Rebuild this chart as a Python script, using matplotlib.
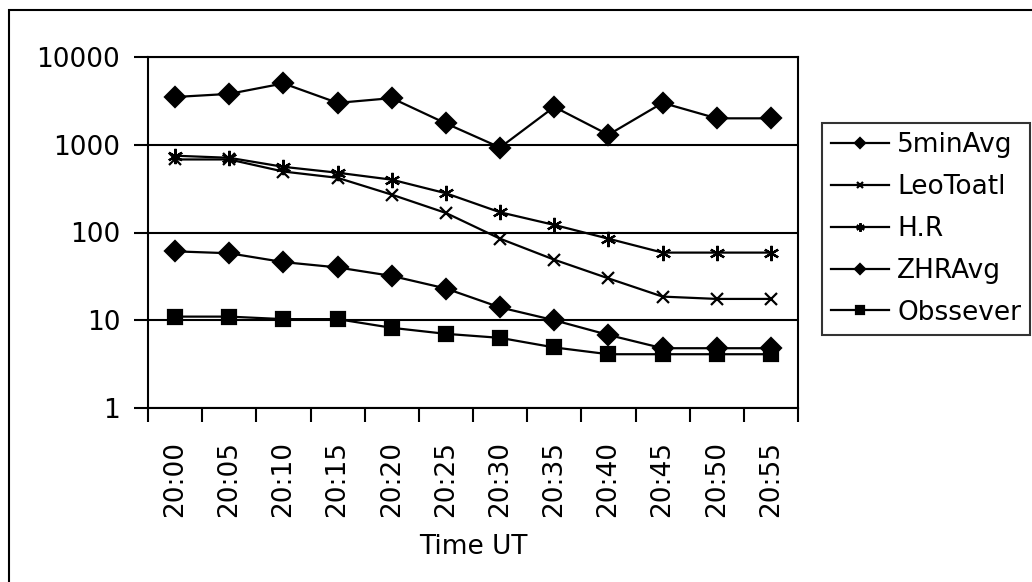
import numpy as np
import matplotlib
matplotlib.use('Agg')
import matplotlib.pyplot as plt
from matplotlib.patches import Rectangle
from matplotlib.ticker import FixedLocator, NullLocator, FuncFormatter

# datos
horas = ['20:00', '20:05', '20:10', '20:15', '20:20', '20:25',
         '20:30', '20:35', '20:40', '20:45', '20:50', '20:55']
media5min = [3500, 3800, 5000, 3000, 3400, 1750, 930, 2700, 1300, 3000, 2000, 2000]
leo_total = [680, 680, 495, 420, 270, 167, 85, 49, 30, 18.6, 17.5, 17.5]
hr = [750, 710, 560, 480, 400, 280, 170, 122, 85, 59, 59, 59]
zhr_media = [61, 58, 46, 40, 32, 23, 14, 10, 6.8, 4.8, 4.8, 4.8]
observador = [11, 11, 10.3, 10.3, 8.2, 7, 6.3, 4.9, 4.1, 4.1, 4.1, 4.1]

series = [
    ('5minAvg', media5min, 'D', 10),
    ('LeoToatl', leo_total, 'x', 9),
    ('H.R', hr, (6, 2, 0), 11),
    ('ZHRAvg', zhr_media, 'D', 10),
    ('Obssever', observador, 's', 10),
]

plt.rcParams['font.family'] = ['DejaVu Sans']
plt.rcParams['font.size'] = 19

fig = plt.figure(figsize=(10.32, 5.82), dpi=100)
fig.patches.append(Rectangle((9 / 1032, -0.1), 1.2, 1.1 - 10 / 582,
                             transform=fig.transFigure, fill=False,
                             edgecolor='black', linewidth=1.5))

ax = fig.add_axes([148 / 1032, 1 - 408 / 582, (798 - 148) / 1032, (408 - 57) / 582])
x = np.arange(len(horas))

lineas = []
for nombre, vals, marca, ms in series:
    l, = ax.plot(x, vals, color='black', linewidth=1.6, marker=marca,
                 markersize=ms, markeredgewidth=1.6, label=nombre)
    lineas.append(l)

ax.set_yscale('log')
ax.set_ylim(1, 10000)
ax.yaxis.set_major_locator(FixedLocator([1, 10, 100, 1000, 10000]))
ax.yaxis.set_minor_locator(NullLocator())
ax.yaxis.set_major_formatter(FuncFormatter(lambda v, p: '{:d}'.format(int(round(v)))))
ax.grid(axis='y', which='major', color='black', linewidth=1.5)

ax.set_xlim(-0.5, len(horas) - 0.5)
ax.set_xticks(x)
ax.set_xticklabels(horas, rotation=90)
ax.set_xticks(np.arange(len(horas) + 1) - 0.5, minor=True)
ax.tick_params(axis='x', which='major', length=0, pad=24)
ax.tick_params(axis='x', which='minor', length=10, width=1.5, direction='out')
ax.tick_params(axis='y', which='major', length=10, width=1.5, direction='out', pad=10)

for s in ax.spines.values():
    s.set_linewidth(1.5)

ax.set_xlabel('Time UT', labelpad=12)

leg = ax.legend(lineas, [s[0] for s in series], loc='upper left',
                bbox_to_anchor=(822 / 1032, 1 - 123 / 582),
                bbox_transform=fig.transFigure, markerscale=0.55,
                frameon=True, fancybox=False, edgecolor='black',
                borderaxespad=0, handlelength=2.2, handletextpad=0.3,
                labelspacing=0.6, borderpad=0.35)
leg.get_frame().set_linewidth(1.5)

fig.savefig('out.png', dpi=100)
